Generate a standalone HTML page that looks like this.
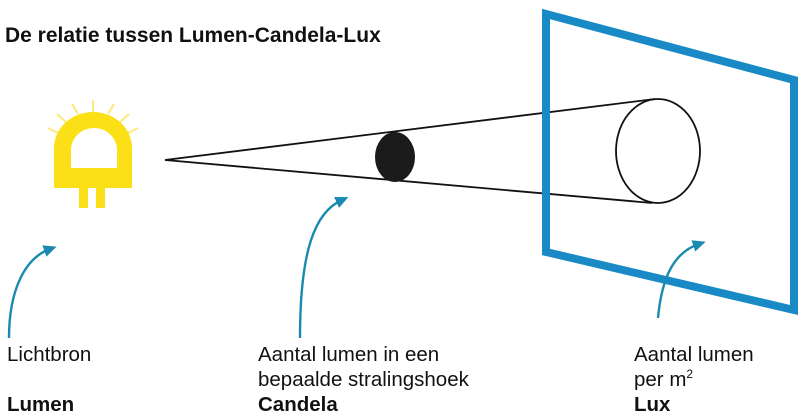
<!DOCTYPE html>
<html><head><meta charset="utf-8"><style>
body{margin:0;width:800px;height:418px;background:#fff;overflow:hidden;position:relative;font-family:"Liberation Sans",sans-serif;color:#111}
svg{position:absolute;left:0;top:0}
.t{position:absolute;font-size:20.5px;line-height:25px;white-space:nowrap}
b{font-weight:bold}
</style></head><body>
<svg width="800" height="418" viewBox="0 0 800 418">
<defs><marker id="a" markerWidth="13" markerHeight="12" refX="6" refY="6" orient="auto" markerUnits="userSpaceOnUse"><path d="M0,0 L13,6 L0,12 Z" fill="#1a8ab0"/></marker></defs>
<g stroke="#fde87a" stroke-width="2">
<line x1="93" y1="112" x2="93" y2="100"/><line x1="78" y1="114" x2="72" y2="104"/><line x1="108" y1="114" x2="114" y2="104"/>
<line x1="66" y1="122" x2="57" y2="114"/><line x1="120" y1="122" x2="129" y2="114"/><line x1="58" y1="133" x2="48" y2="128"/><line x1="128" y1="133" x2="138" y2="128"/>
</g>
<path d="M54,188 L54,148 A39,36 0 0 1 132,148 L132,188 Z" fill="#fbe017"/>
<path d="M71,168 L71,150 A23,22 0 0 1 117,150 L117,168 Z" fill="#fff"/>
<rect x="79" y="188" width="9" height="20" fill="#fbe017"/><rect x="96" y="188" width="9" height="20" fill="#fbe017"/>
<path d="M655,99 L165,160 L652,203" fill="none" stroke="#111" stroke-width="1.8"/>
<ellipse cx="395" cy="157" rx="20" ry="25" fill="#1b1b1b"/>
<ellipse cx="658" cy="151" rx="42" ry="52" fill="none" stroke="#111" stroke-width="1.8"/>
<polygon points="546,14 794,80 794,310 546,252" fill="none" stroke="#1a8ac6" stroke-width="8"/>
<g fill="none" stroke="#1a8ab0" stroke-width="2.4" marker-end="url(#a)">
<path d="M9,338 C9,290 25,258 50,249"/>
<path d="M300,338 C300,250 315,212 342,200"/>
<path d="M658,318 C662,275 675,252 699,244"/>
</g>
</svg>
<div class="t" style="left:5px;top:23px;font-weight:bold;font-size:21px">De relatie tussen Lumen-Candela-Lux</div>
<div class="t" style="left:7px;top:342px">Lichtbron<br><br><b>Lumen</b></div>
<div class="t" style="left:258px;top:342px">Aantal lumen in een<br>bepaalde stralingshoek<br><b>Candela</b></div>
<div class="t" style="left:634px;top:342px">Aantal lumen<br>per m<sup style="font-size:12px;line-height:0">2</sup><br><b>Lux</b></div>
</body></html>
